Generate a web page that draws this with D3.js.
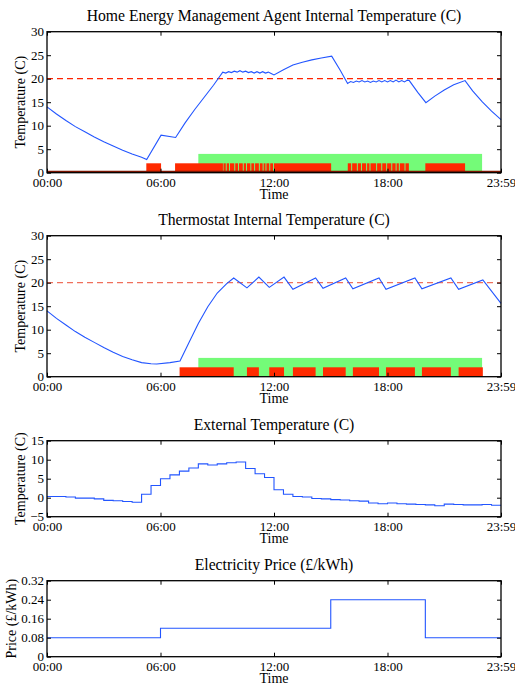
<!DOCTYPE html>
<html>
<head>
<meta charset="utf-8">
<script src="https://cdn.jsdelivr.net/npm/d3@7"></script>
<style>
  body { margin: 0; background: #fff; }
  text { font-family: "Liberation Serif", "DejaVu Serif", serif; fill: #000; }
</style>
</head>
<body>
<svg></svg>
<script>
// time ticks (hours) and their labels
var hourTicks = [0, 6, 12, 18, 24];
var hourLabels = ["00:00", "06:00", "12:00", "18:00", "23:59"];

var setPoint = 20;
var occupied = [[8, 23]];

// Home Energy Management Agent internal temperature [hour, C]
var hemaTemp = [
  [0, 14.0], [0.5, 12.5], [1, 11.1], [1.5, 9.8], [2, 8.7], [2.5, 7.6], [3, 6.6], [3.5, 5.7],
  [4, 4.8], [4.5, 4.0], [5, 3.3], [5.27, 2.8], [6.03, 8.0], [6.8, 7.5], [7.3, 10.6], [7.8, 13.4],
  [8.3, 16.0], [8.8, 18.6], [9.29, 21.4],
  [9.45, 21.2], [9.6, 21.5], [9.75, 21.3], [9.9, 21.6], [10.05, 21.4], [10.2, 21.7], [10.35, 21.4],
  [10.5, 21.6], [10.65, 21.3], [10.8, 21.5], [10.95, 21.2], [11.1, 21.5], [11.25, 21.2], [11.4, 21.5],
  [11.55, 21.2], [11.7, 21.4], [11.85, 21.1], [12.0, 20.8],
  [12.5, 21.9], [13.0, 22.9], [13.5, 23.5], [14.0, 24.0], [14.5, 24.4], [15.05, 24.8],
  [15.5, 21.8], [15.89, 19.0],
  [16.05, 19.4], [16.2, 19.2], [16.35, 19.5], [16.5, 19.3], [16.65, 19.6], [16.8, 19.3], [16.95, 19.5],
  [17.1, 19.2], [17.25, 19.5], [17.4, 19.3], [17.55, 19.6], [17.7, 19.3], [17.85, 19.6], [18.0, 19.3],
  [18.15, 19.6], [18.3, 19.3], [18.45, 19.7], [18.6, 19.3], [18.75, 19.6], [18.9, 19.3], [19.05, 19.7],
  [19.15, 19.6],
  [19.6, 17.1], [20.03, 14.9], [20.5, 16.3], [21.0, 17.6], [21.5, 18.7], [22.1, 19.6],
  [22.5, 17.4], [23.0, 15.1], [23.5, 13.1], [24.0, 11.3]
];

// HEMA heater on periods [start, end] in hours
var hemaHeat = [
  [5.25, 6.03], [6.77, 9.3],
  [9.33, 9.45], [9.5, 9.62], [9.67, 9.9], [9.95, 10.1], [10.15, 10.35], [10.4, 10.52], [10.57, 10.75],
  [10.8, 10.95], [11.0, 11.2], [11.25, 11.4], [11.45, 11.55], [11.6, 11.75], [11.8, 11.95],
  [12.0, 15.02],
  [15.9, 16.08], [16.13, 16.38], [16.43, 16.6], [16.65, 16.87], [16.92, 17.05], [17.1, 17.4],
  [17.45, 17.67], [17.72, 17.93], [17.98, 18.2], [18.25, 18.43], [18.48, 18.6], [18.65, 18.9],
  [18.95, 19.13],
  [20.0, 22.1]
];

// Thermostat internal temperature [hour, C]
var thermoTemp = [
  [0, 14.0], [0.5, 12.4], [1, 11.0], [1.5, 9.6], [2, 8.4], [2.5, 7.3], [3, 6.2], [3.5, 5.2],
  [4, 4.3], [4.5, 3.6], [5, 3.0], [5.5, 2.75], [5.8, 2.7], [6.5, 3.0], [7.03, 3.35],
  [7.5, 7.2], [8.0, 11.3], [8.5, 14.9], [9.0, 17.8], [9.5, 19.8], [9.87, 21.0],
  [10.57, 18.9], [11.2, 21.2], [11.75, 19.0], [12.53, 21.2], [13.0, 18.6], [14.2, 21.0],
  [14.59, 18.8], [15.79, 21.0], [16.17, 18.7], [17.55, 21.0], [17.92, 18.6], [19.45, 21.0],
  [19.82, 18.7], [21.35, 21.0], [21.76, 18.6], [23.04, 20.6], [24.0, 15.6]
];

// Thermostat heater on periods
var thermoHeat = [
  [7.01, 9.87], [10.57, 11.2], [11.75, 12.53], [13.0, 14.2], [14.59, 15.79],
  [16.17, 17.55], [17.92, 19.45], [19.82, 21.35], [21.76, 23.04]
];

// External temperature, half-hourly steps
var extHours = [0, 0.5, 1, 1.5, 2, 2.5, 3, 3.5, 4, 4.5, 5, 5.5, 6, 6.5, 7, 7.5, 8, 8.5, 9, 9.5,
  10, 10.5, 11, 11.5, 12, 12.5, 13, 13.5, 14, 14.5, 15, 15.5, 16, 16.5, 17, 17.5, 18, 18.5, 19, 19.5,
  20, 20.5, 21, 21.5, 22, 22.5, 23, 23.5, 24];
var extTemp = [0.3, 0.3, 0.2, -0.1, -0.1, -0.3, -0.7, -0.8, -1.0, -1.2, 0.9, 3.2, 5.0, 6.0, 7.0, 7.8,
  8.9, 8.6, 8.9, 9.2, 9.4, 7.7, 6.3, 5.3, 2.1, 0.9, 0.3, 0.2, -0.2, -0.3, -0.5, -0.6, -0.8, -0.9,
  -1.4, -1.6, -1.4, -1.6, -1.7, -1.8, -1.9, -2.1, -1.7, -1.8, -1.9, -1.9, -1.8, -2.0, -2.0];

// Electricity price steps
var priceHours = [0, 6, 15, 20, 24];
var priceValues = [0.08, 0.12, 0.24, 0.08, 0.08];
var priceTicks = [0, 0.08, 0.16, 0.24, 0.32];

var W = 515, H = 688;
var left = 47, right = 501;
var blue = "#2255ff", red = "#ff2a00", green = "#74fb78";

var svg = d3.select("svg").attr("width", W).attr("height", H);

var x = d3.scaleLinear().domain([0, 24]).range([left, right]);

function panel(o) {
  var y = d3.scaleLinear().domain(o.domain).range([o.bottom, o.top]);
  var g = svg.append("g");

  // title
  g.append("text")
      .attr("x", (left + right) / 2).attr("y", o.top - 10.5)
      .attr("text-anchor", "middle").style("font-size", "15.7px")
      .text(o.title);

  var plot = g.append("g");

  if (o.occupied) {
    plot.selectAll(".occ").data(o.occupied).enter().append("rect")
        .attr("fill", green)
        .attr("x", function(d) { return x(d[0]); })
        .attr("width", function(d) { return x(d[1]) - x(d[0]); })
        .attr("y", y(4)).attr("height", y(0) - y(4));
  }
  if (o.heat) {
    plot.selectAll(".heat").data(o.heat).enter().append("rect")
        .attr("fill", red)
        .attr("x", function(d) { return x(d[0]); })
        .attr("width", function(d) { return x(d[1]) - x(d[0]); })
        .attr("y", y(2)).attr("height", y(0) - y(2));
  }
  if (o.baseline) {
    plot.append("line")
        .attr("x1", x(0)).attr("x2", x(24))
        .attr("y1", y(0) - 1).attr("y2", y(0) - 1)
        .attr("stroke", "#7a1400").attr("stroke-width", 2);
  }
  if (o.setPoint !== undefined) {
    plot.append("line")
        .attr("x1", x(0)).attr("x2", x(24))
        .attr("y1", y(o.setPoint)).attr("y2", y(o.setPoint))
        .attr("stroke", o.dashColor).attr("stroke-width", 1.2)
        .attr("stroke-dasharray", "6,4");
  }

  var line = d3.line()
      .x(function(d) { return x(d[0]); })
      .y(function(d) { return y(d[1]); });
  if (o.step) line.curve(d3.curveStepAfter);

  plot.append("path")
      .datum(o.series)
      .attr("fill", "none")
      .attr("stroke", blue)
      .attr("stroke-width", 1.1)
      .attr("d", line);

  // frame with inward ticks on all sides
  g.append("rect")
      .attr("x", left).attr("y", o.top)
      .attr("width", right - left).attr("height", o.bottom - o.top)
      .attr("fill", "none").attr("stroke", "#000").attr("stroke-width", 1.3);

  g.append("g")
      .attr("transform", "translate(0," + o.bottom + ")")
      .call(d3.axisBottom(x).tickValues(hourTicks)
        .tickFormat(function(d, i) { return hourLabels[i]; })
        .tickSize(-4).tickPadding(5));
  g.append("g")
      .attr("transform", "translate(0," + o.top + ")")
      .call(d3.axisTop(x).tickValues(hourTicks).tickFormat("").tickSize(-4));

  g.append("g")
      .attr("transform", "translate(" + left + ",0)")
      .call(d3.axisLeft(y).tickValues(o.ticks).tickFormat(o.format)
        .tickSize(-4).tickPadding(3));
  g.append("g")
      .attr("transform", "translate(" + right + ",0)")
      .call(d3.axisRight(y).tickValues(o.ticks).tickFormat("").tickSize(-4));

  g.selectAll(".domain").remove();
  g.selectAll(".tick line").attr("stroke", "#000");
  g.selectAll(".tick text").style("font-size", "13px")
      .style("font-family", "'Liberation Serif', serif");

  // axis labels
  g.append("text")
      .attr("x", (left + right) / 2).attr("y", o.bottom + 26)
      .attr("text-anchor", "middle").style("font-size", "14px")
      .text("Time");
  g.append("text")
      .attr("transform", "translate(" + o.ylabelX + "," + (o.top + o.bottom) / 2 + ") rotate(-90)")
      .attr("text-anchor", "middle").attr("dy", "0.35em").style("font-size", "14px")
      .text(o.ylabel);
}

panel({
  title: "Home Energy Management Agent Internal Temperature (C)",
  top: 31.7, bottom: 172.7, domain: [0, 30], ticks: d3.range(0, 31, 5),
  format: d3.format("d"), series: hemaTemp, heat: hemaHeat, occupied: occupied,
  baseline: true, setPoint: setPoint, dashColor: "#ff2200",
  ylabel: "Temperature (C)", ylabelX: 20.5
});

panel({
  title: "Thermostat Internal Temperature (C)",
  top: 235.7, bottom: 376.7, domain: [0, 30], ticks: d3.range(0, 31, 5),
  format: d3.format("d"), series: thermoTemp, heat: thermoHeat, occupied: occupied,
  setPoint: setPoint, dashColor: "#f0705c",
  ylabel: "Temperature (C)", ylabelX: 20.5
});

panel({
  title: "External Temperature (C)",
  top: 440.7, bottom: 516.7, domain: [-5, 15], ticks: [-5, 0, 5, 10, 15],
  format: d3.format("d"), series: extHours.map(function(h, i) { return [h, extTemp[i]]; }),
  step: true, ylabel: "Temperature (C)", ylabelX: 20.5
});

panel({
  title: "Electricity Price (\u00a3/kWh)",
  top: 580.7, bottom: 656.7, domain: [0, 0.32], ticks: priceTicks,
  format: function(d) { return d === 0 ? "0" : d.toFixed(2); },
  series: priceHours.map(function(h, i) { return [h, priceValues[i]]; }),
  step: true, ylabel: "Price (\u00a3/kWh)", ylabelX: 11.5
});
</script>
</body>
</html>
